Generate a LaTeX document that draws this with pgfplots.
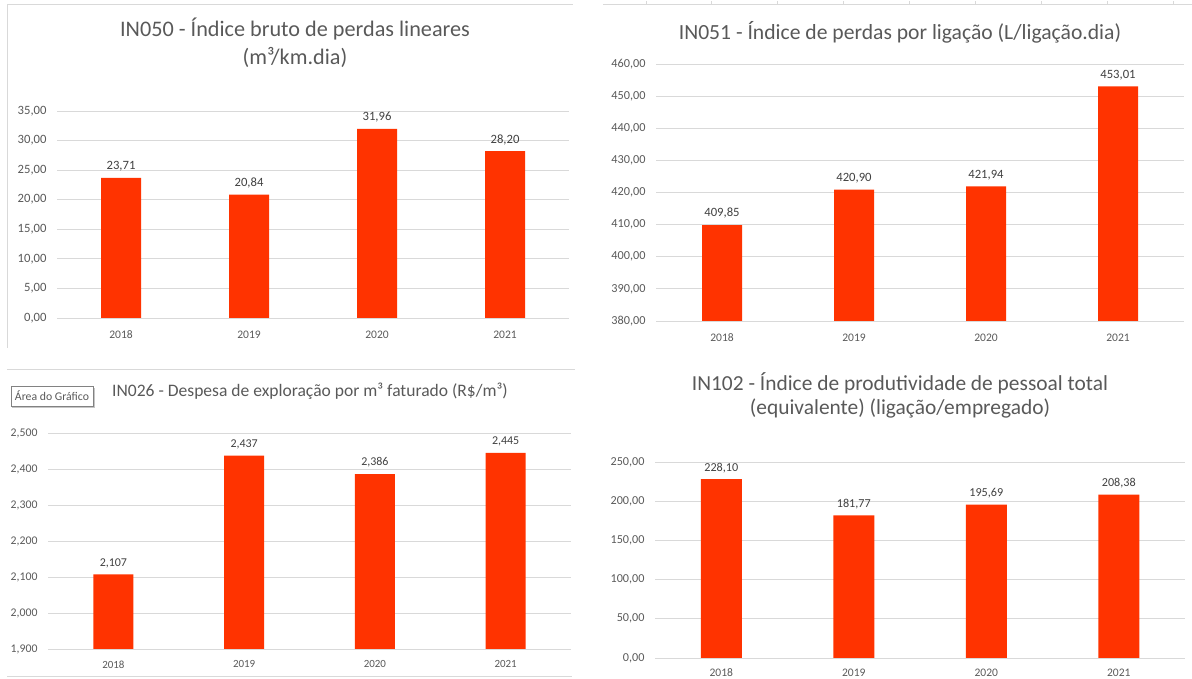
\documentclass[border=0pt]{standalone}
\usepackage{pgfplots}
\pgfplotsset{compat=1.18}
\usetikzlibrary{shadows}
\usepackage{fontspec}
\setmainfont{Carlito}
\definecolor{barc}{HTML}{FF3300}
\definecolor{txt}{HTML}{595959}
\definecolor{lbl}{HTML}{404040}
\definecolor{gridc}{HTML}{D9D9D9}
\pgfplotsset{/pgf/number format/assume math mode=true}
\pgfplotsset{exbar/.style={
  ybar, bar width=40bp, scale only axis, anchor=south west,
  xmin=-0.5, xmax=3.5, xtick={0,1,2,3}, xticklabels={2018,2019,2020,2021},
  axis line style={draw=none}, major tick length=0pt, tick style={draw=none},
  ymajorgrids, major grid style={draw=gridc, line width=0.8bp},
  yticklabel style={text=txt, font=\fontsize{12.7}{14}\selectfont, anchor=east, xshift=-7bp},
  xticklabel style={text=txt, font=\fontsize{11.6}{14}\selectfont, yshift=-9bp},
  nodes near coords style={text=lbl, font=\fontsize{12.7}{14}\selectfont, yshift=3bp},
}}
\begin{document}
\begin{tikzpicture}[x=1bp,y=1bp]
\path[use as bounding box] (0,0) rectangle (1192,679);
% frames
\draw[gridc, line width=1bp] (7,331) -- (7,674) -- (573,674);
\draw[gridc, line width=1bp] (603,674) -- (1192,674);
\foreach \xx in {646,711,777,843,909,975,1041,1107,1173} \draw[gridc, line width=0.8bp] (\xx,674) -- (\xx,678);
\draw[gridc, line width=1bp] (7,309) -- (575,309);
\draw[gridc, line width=1bp] (7,2) -- (572,2);
% chart 1
\node[text=txt, font=\fontsize{22.3}{26}\selectfont] at (295,650) {IN050 - Índice bruto de perdas lineares};
\node[text=txt, font=\fontsize{22.3}{26}\selectfont] at (295,622) {(m³/km.dia)};
\begin{axis}[exbar, at={(57bp,361bp)}, width=512bp, height=207bp, ymin=0, ymax=35, ytick={0,5,...,35},
  yticklabel={\pgfmathprintnumber[fixed,fixed zerofill,precision=2,use comma]{\tick}},
  nodes near coords={\pgfmathprintnumber[fixed,fixed zerofill,precision=2,use comma]{\pgfplotspointmeta}}]
\addplot[fill=barc, draw=none] coordinates {(0,23.71) (1,20.84) (2,31.96) (3,28.20)};
\end{axis}
% chart 2
\node[text=txt, font=\fontsize{21.7}{26}\selectfont] at (900,647) {IN051 - Índice de perdas por ligação (L/ligação.dia)};
\begin{axis}[exbar, at={(656bp,358bp)}, width=528bp, height=257bp, ymin=380, ymax=460, ytick={380,390,...,460},
  yticklabel style={font=\fontsize{12.3}{14}\selectfont},
  yticklabel={\pgfmathprintnumber[fixed,fixed zerofill,precision=2,use comma]{\tick}},
  nodes near coords={\pgfmathprintnumber[fixed,fixed zerofill,precision=2,use comma]{\pgfplotspointmeta}}]
\addplot[fill=barc, draw=none] coordinates {(0,409.85) (1,420.90) (2,421.94) (3,453.01)};
\end{axis}
% chart 3
\node[draw=gridc!60!black, fill=white, font=\fontsize{11.8}{13}\selectfont, text=txt, inner xsep=4bp, minimum height=20bp, drop shadow={shadow xshift=1.5bp, shadow yshift=-2bp, opacity=0.45}] at (52,283) {Área do Gráfico};
\node[text=txt, font=\fontsize{17.6}{20}\selectfont] at (310,288) {IN026 - Despesa de exploração por m³ faturado (R\$/m³)};
\begin{axis}[exbar, at={(48bp,30bp)}, width=523bp, height=216bp, ymin=1.9, ymax=2.5, ytick={1.9,2.0,2.1,2.2,2.3,2.4,2.5},
  yticklabel style={font=\fontsize{11.8}{13}\selectfont},
  xticklabel style={font=\fontsize{11}{12}\selectfont, yshift=1bp},
  nodes near coords style={font=\fontsize{12}{14}\selectfont},
  yticklabel={\pgfmathprintnumber[fixed,fixed zerofill,precision=3,use comma]{\tick}},
  nodes near coords={\pgfmathprintnumber[fixed,fixed zerofill,precision=3,use comma]{\pgfplotspointmeta}}]
\addplot[fill=barc, draw=none] coordinates {(0,2.107) (1,2.437) (2,2.386) (3,2.445)};
\end{axis}
% chart 4
\node[text=txt, font=\fontsize{21.5}{26}\selectfont] at (900,296) {IN102 - Índice de produtividade de pessoal total};
\node[text=txt, font=\fontsize{21.5}{26}\selectfont] at (900,270) {(equivalente) (ligação/empregado)};
\begin{axis}[exbar, at={(655bp,21bp)}, width=530bp, height=196bp, bar width=41bp, ymin=0, ymax=250, ytick={0,50,...,250},
  yticklabel style={font=\fontsize{12.2}{14}\selectfont},
  xticklabel style={yshift=2bp},
  nodes near coords style={font=\fontsize{12.2}{14}\selectfont},
  yticklabel={\pgfmathprintnumber[fixed,fixed zerofill,precision=2,use comma]{\tick}},
  nodes near coords={\pgfmathprintnumber[fixed,fixed zerofill,precision=2,use comma]{\pgfplotspointmeta}}]
\addplot[fill=barc, draw=none] coordinates {(0,228.10) (1,181.77) (2,195.69) (3,208.38)};
\end{axis}
\end{tikzpicture}
\end{document}
